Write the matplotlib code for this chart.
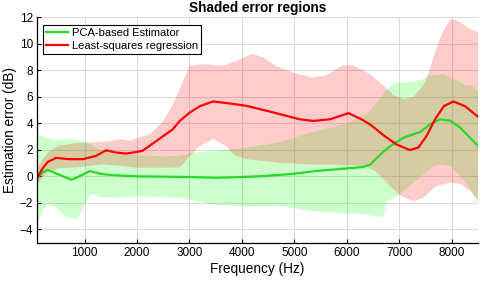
import matplotlib
matplotlib.use('Agg')
import matplotlib.pyplot as plt
import numpy as np

plt.rcParams['font.family'] = ['Liberation Sans', 'DejaVu Sans']

# PCA-based estimator: mean line and band
pca_freq = [100, 200, 300, 500, 750, 900, 1100, 1300, 1500, 2000, 2500, 3000, 3500,
            4000, 4400, 5000, 5400, 5700, 6000, 6300, 6450, 6640, 6830, 7080, 7270,
            7400, 7590, 7775, 7970, 8160, 8350, 8500]
pca_mean = [-0.1, 0.3, 0.5, 0.15, -0.25, 0.0, 0.4, 0.2, 0.1, 0.0, -0.02, -0.05, -0.1,
            -0.05, 0.02, 0.2, 0.4, 0.5, 0.6, 0.7, 0.9, 1.66, 2.29, 2.92, 3.18,
            3.35, 3.93, 4.3, 4.2, 3.68, 2.9, 2.3]

pca_up_freq = [100, 300, 500, 700, 900, 1100, 1300, 1500, 2000, 2500, 2800, 3100, 3450,
               3800, 4100, 4700, 5300, 5680, 6000, 6400, 6600, 6750, 6900, 7080, 7270,
               7460, 7550, 7710, 7840, 8000, 8120, 8280, 8350, 8470, 8500]
pca_up = [3.2, 2.9, 2.7, 2.8, 2.75, 2.5, 2.0, 1.7, 1.6, 1.5, 1.55, 1.8, 1.9,
          2.04, 2.17, 2.55, 3.3, 3.68, 4.0, 4.8, 5.7, 6.5, 7.0, 7.08, 7.15,
          7.34, 7.6, 7.65, 7.72, 7.4, 7.2, 6.83, 6.9, 6.58, 6.5]

pca_lo_freq = [100, 280, 450, 665, 855, 950, 1110, 1300, 1500, 2000, 2800, 3450, 4100,
               4700, 5300, 5680, 6000, 6400, 6700, 6730, 6760, 7010, 7080, 7390, 7650,
               7775, 7970, 8160, 8350, 8470, 8500]
pca_lo = [-3.5, -2.07, -2.3, -3.08, -3.2, -2.6, -1.31, -1.56, -1.6, -1.5, -1.6, -2.1, -2.3,
          -2.2, -2.6, -2.7, -2.8, -2.9, -3.1, -2.5, -1.87, -1.36, -1.1, -0.1, 0.78,
          0.9, 0.78, 0.03, -0.86, -1.9, -2.0]

# Least-squares regression: mean line and band
ls_freq = [100, 200, 300, 460, 700, 970, 1220, 1410, 1600, 1800, 2100, 2370, 2680,
           2820, 3000, 3200, 3450, 3770, 4090, 4600, 5100, 5360, 5680, 6030, 6280,
           6450, 6700, 6950, 7200, 7360, 7520, 7680, 7850, 8030, 8250, 8500]
ls_mean = [-0.1, 0.6, 1.1, 1.4, 1.3, 1.3, 1.55, 1.97, 1.8, 1.72, 1.92, 2.67, 3.55,
           4.2, 4.8, 5.3, 5.65, 5.5, 5.32, 4.82, 4.31, 4.18, 4.31, 4.77, 4.3,
           3.9, 3.1, 2.4, 1.99, 2.17, 3.05, 4.3, 5.3, 5.65, 5.3, 4.5]

ls_up_freq = [100, 200, 300, 500, 900, 1100, 1350, 1700, 1870, 2000, 2250, 2500, 2690,
              2880, 3005, 3260, 3640, 3895, 4195, 4400, 4640, 5000, 5340, 5590, 5910,
              6090, 6160, 6450, 6670, 6900, 7080, 7180, 7270, 7460, 7550, 7710, 7840,
              7970, 8120, 8280, 8410, 8500]
ls_up = [0.6, 1.3, 1.8, 2.3, 2.55, 2.55, 2.6, 2.8, 2.7, 2.9, 3.18, 4.18, 5.45,
         7.2, 8.35, 8.47, 8.35, 8.72, 9.23, 9.0, 8.35, 7.8, 7.46, 7.6, 8.35,
         8.4, 8.3, 7.7, 6.96, 6.1, 5.82, 5.9, 6.0, 6.9, 7.7, 9.73, 11.0,
         11.85, 11.75, 11.3, 11.0, 10.9]

ls_lo_freq = [100, 200, 300, 500, 900, 1100, 1350, 1700, 2000, 2500, 2820, 3000, 3200,
              3450, 3700, 3800, 3900, 4100, 4700, 5300, 5680, 6000, 6350, 6540, 6855,
              7045, 7270, 7460, 7710, 7970, 8160, 8350, 8470, 8500]
ls_lo = [-0.6, -0.1, 0.3, 0.6, 0.7, 0.8, 0.9, 0.8, 0.65, 0.65, 0.66, 1.5, 2.3,
         2.8, 2.29, 1.8, 1.54, 1.29, 1.03, 0.9, 0.9, 0.85, 0.77, 0.4, -0.86,
         -1.49, -1.87, -1.6, -0.73, -0.48, -0.55, -1.1, -1.6, -1.65]

xticks = [1000, 2000, 3000, 4000, 5000, 6000, 7000, 8000]
yticks = [-4, -2, 0, 2, 4, 6, 8, 10, 12]

fig = plt.figure(figsize=(4.84, 2.82), dpi=100)
ax = fig.add_axes([0.0771, 0.1394, 0.9105, 0.7993])

ax.fill(np.concatenate([pca_up_freq, pca_lo_freq[::-1]]),
        np.concatenate([pca_up, pca_lo[::-1]]),
        color=(0, 1, 0), alpha=0.2, linewidth=0)
ax.fill(np.concatenate([ls_up_freq, ls_lo_freq[::-1]]),
        np.concatenate([ls_up, ls_lo[::-1]]),
        color=(1, 0, 0), alpha=0.2, linewidth=0)

ax.plot(pca_freq, pca_mean, color=(0.15, 0.85, 0.15), lw=1.6, label='PCA-based Estimator')
ax.plot(ls_freq, ls_mean, color=(1, 0, 0), lw=1.6, label='Least-squares regression')

ax.set_xlim(100, 8500)
ax.set_ylim(-5, 12)
ax.set_xticks(xticks)
ax.set_yticks(yticks)
ax.tick_params(direction='in', length=3, width=0.8, labelsize=8.5, pad=3)
ax.grid(True, color='#dcdcdc', linewidth=0.8)
ax.set_axisbelow(True)
for s in ['top', 'right']:
    ax.spines[s].set_visible(False)
for s in ['left', 'bottom']:
    ax.spines[s].set_linewidth(0.9)

ax.set_title('Shaded error regions', fontsize=9.8, fontweight='bold', pad=4)
ax.set_xlabel('Frequency (Hz)', fontsize=9.8, labelpad=2)
ax.set_ylabel('Estimation error (dB)', fontsize=9.8, labelpad=2)

leg = ax.legend(loc='upper left', bbox_to_anchor=(0.0136, 0.966), borderaxespad=0,
                fontsize=8, handlelength=2.0, handletextpad=0.3, labelspacing=0.3,
                borderpad=0.25, fancybox=False, framealpha=1, edgecolor='black')
leg.get_frame().set_linewidth(0.8)

fig.savefig('out.png', dpi=100)
